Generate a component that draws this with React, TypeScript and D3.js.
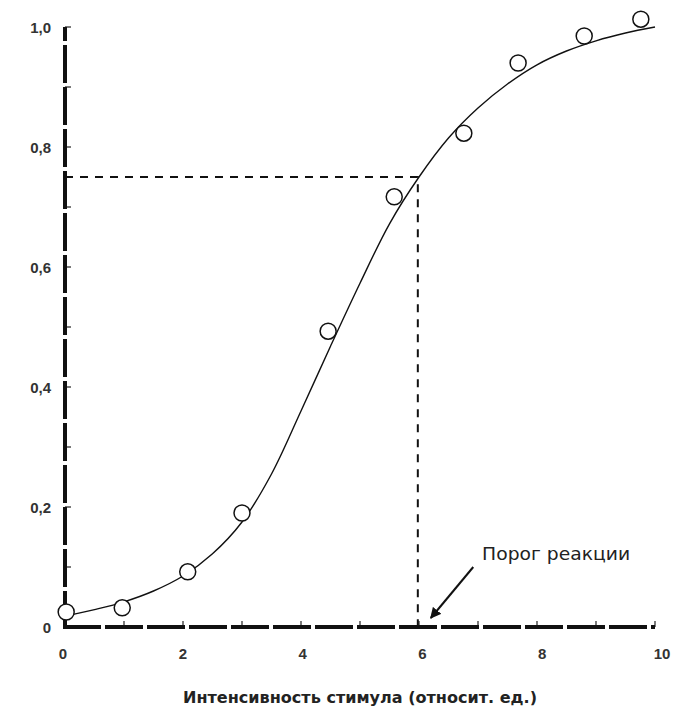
import { useEffect, useRef } from 'react';
import * as d3 from 'd3';

// measured points (stimulus intensity, response fraction)
const pointX = [0.02, 0.97, 2.08, 3.0, 4.46, 5.58, 6.76, 7.68, 8.8, 9.76];
const pointY = [0.025, 0.032, 0.092, 0.19, 0.493, 0.717, 0.823, 0.94, 0.985, 1.013];

// fitted curve
const curveX = [0, 0.5, 1, 1.5, 2, 2.5, 3, 3.5, 4, 4.5, 5, 5.5, 6, 6.5, 7, 7.5, 8, 8.5, 9, 9.5, 10];
const curveY = [0.018, 0.029, 0.042, 0.06, 0.085, 0.122, 0.175, 0.255, 0.36, 0.468, 0.573, 0.672, 0.75, 0.815, 0.865, 0.905, 0.937, 0.96, 0.977, 0.99, 1.0];

const xTickValues = [0, 2, 4, 6, 8, 10];
const xTickLabels = ['0', '2', '4', '6', '8', '10'];
const yTickValues = [0, 0.2, 0.4, 0.6, 0.8, 1.0];
const yTickLabels = ['0', '0,2', '0,4', '0,6', '0,8', '1,0'];

const thresholdX = 5.98;
const thresholdY = 0.75;
const annotation = 'Порог реакции';
const xTitle = 'Интенсивность стимула (относит. ед.)';

const App = () => {
  const svgRef = useRef<SVGSVGElement>(null);

  useEffect(() => {
    const width = 676;
    const height = 715;
    const svg = d3.select(svgRef.current).attr('width', width).attr('height', height);
    svg.selectAll('*').remove();

    const x = d3.scaleLinear().domain([0, 10]).range([65, 655]);
    const y = d3.scaleLinear().domain([0, 1]).range([627, 27]);
    // tick labels were typeset a little wider than the axis
    const xLabel = d3.scaleLinear().domain([0, 10]).range([63, 662]);
    const font = '"Liberation Sans", Arial, sans-serif';
    const wideFont = '"DejaVu Sans", sans-serif';

    // minor ticks
    svg.append('g')
      .selectAll('line')
      .data(d3.range(1, 11))
      .join('line')
        .attr('x1', d => x(d))
        .attr('x2', d => x(d))
        .attr('y1', y(0))
        .attr('y2', y(0) - 6)
        .attr('stroke', '#222')
        .attr('stroke-width', 1.2);

    svg.append('g')
      .selectAll('line')
      .data(d3.range(1, 11).map(d => d / 10))
      .join('line')
        .attr('x1', x(0))
        .attr('x2', x(0) + 6)
        .attr('y1', d => y(d))
        .attr('y2', d => y(d))
        .attr('stroke', '#222')
        .attr('stroke-width', 1.2);

    // broken thick axes
    svg.append('line')
      .attr('x1', x(0)).attr('x2', x(0))
      .attr('y1', y(0) + 2).attr('y2', y(1))
      .attr('stroke', '#111')
      .attr('stroke-width', 4)
      .attr('stroke-dasharray', '38,4');
    svg.append('line')
      .attr('x1', x(0) - 2).attr('x2', x(10))
      .attr('y1', y(0)).attr('y2', y(0))
      .attr('stroke', '#111')
      .attr('stroke-width', 4)
      .attr('stroke-dasharray', '38,4');

    // threshold guides
    svg.append('path')
      .attr('d', `M${x(0)},${y(thresholdY)}H${x(thresholdX)}V${y(0)}`)
      .attr('fill', 'none')
      .attr('stroke', '#111')
      .attr('stroke-width', 2)
      .attr('stroke-dasharray', '8,7');

    // curve
    const line = d3.line<number>()
      .x((_, i) => x(curveX[i]))
      .y(d => y(d))
      .curve(d3.curveCatmullRom);
    svg.append('path')
      .attr('d', line(curveY))
      .attr('fill', 'none')
      .attr('stroke', '#111')
      .attr('stroke-width', 1.4);

    // points
    svg.append('g')
      .selectAll('circle')
      .data(pointY)
      .join('circle')
        .attr('cx', (_, i) => x(pointX[i]))
        .attr('cy', d => y(d))
        .attr('r', 8)
        .attr('fill', 'white')
        .attr('stroke', '#111')
        .attr('stroke-width', 1.5);

    // tick labels
    svg.append('g')
      .selectAll('text')
      .data(xTickValues)
      .join('text')
        .attr('x', d => xLabel(d))
        .attr('y', 659)
        .attr('text-anchor', 'middle')
        .style('font-family', font)
        .style('font-size', '15px')
        .style('font-weight', 'bold')
        .attr('fill', '#333')
        .text((_, i) => xTickLabels[i]);

    svg.append('g')
      .selectAll('text')
      .data(yTickValues)
      .join('text')
        .attr('x', 51)
        .attr('y', d => y(d) + 6)
        .attr('text-anchor', 'end')
        .style('font-family', font)
        .style('font-size', '15px')
        .style('font-weight', 'bold')
        .attr('fill', '#333')
        .text((_, i) => yTickLabels[i]);

    // annotation with arrow
    svg.append('defs').append('marker')
      .attr('id', 'arrow')
      .attr('viewBox', '0 0 10 10')
      .attr('refX', 9)
      .attr('refY', 5)
      .attr('markerWidth', 5.5)
      .attr('markerHeight', 5.5)
      .attr('orient', 'auto')
      .append('path')
        .attr('d', 'M0,0L10,5L0,10z')
        .attr('fill', '#111');

    svg.append('line')
      .attr('x1', x(6.92)).attr('y1', y(0.1))
      .attr('x2', x(6.2)).attr('y2', y(0.015))
      .attr('stroke', '#111')
      .attr('stroke-width', 2)
      .attr('marker-end', 'url(#arrow)');

    svg.append('text')
      .attr('x', x(7.07))
      .attr('y', y(0.112))
      .attr('textLength', 148)
      .attr('lengthAdjust', 'spacingAndGlyphs')
      .style('font-family', wideFont)
      .style('font-size', '17px')
      .attr('fill', '#222')
      .text(annotation);

    svg.append('text')
      .attr('x', 183)
      .attr('y', 703)
      .attr('textLength', 354)
      .attr('lengthAdjust', 'spacingAndGlyphs')
      .style('font-family', wideFont)
      .style('font-size', '15px')
      .style('font-weight', 'bold')
      .attr('fill', '#222')
      .text(xTitle);
  }, []);

  return (
    <svg
      ref={svgRef}
      width={676}
      height={715}
      style={{ position: 'absolute', left: 0, top: 0, background: 'white' }}
    />
  );
};

export default App;
